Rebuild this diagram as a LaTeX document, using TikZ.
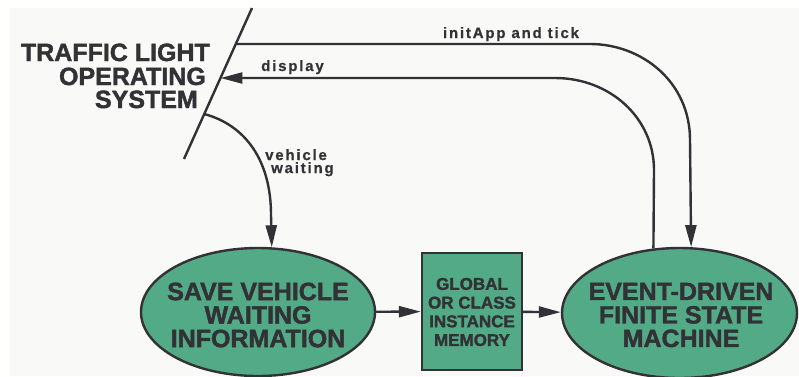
\documentclass[tikz,border=0pt]{standalone}
\usepackage{fontspec}
\setmainfont{Liberation Sans}
\newfontfamily\heavyfont[FakeBold=1.6]{Liberation Sans Bold}
\newfontfamily\labelfont[LetterSpace=12,FakeBold=0.6]{Liberation Sans Bold}
\usetikzlibrary{shapes.geometric,arrows.meta,calc}
\definecolor{ink}{HTML}{323236}
\definecolor{fsmgreen}{HTML}{52AA86}
\definecolor{paper}{HTML}{F9F9F7}

\begin{document}
\begin{tikzpicture}[x=1pt,y=-1pt,
  conn/.style={draw=ink,line width=2.4pt},
  arrowed/.style={conn,-{Triangle[length=22pt,width=11pt]}},
  bubble/.style={ellipse,draw=ink,line width=2.4pt,fill=fsmgreen,
    minimum width=234pt,minimum height=128pt,inner sep=0pt},
  bigtext/.style={text=ink,font=\heavyfont\fontsize{25}{23.5}\selectfont,
    align=center,inner sep=0pt},
  memtext/.style={text=ink,font=\heavyfont\fontsize{17}{18.7}\selectfont,
    align=center,inner sep=0pt},
  flowlabel/.style={text=ink,font=\labelfont\fontsize{15}{13}\selectfont,
    inner sep=0pt,anchor=base},
  titleline/.style={text=ink,font=\heavyfont\fontsize{25}{25}\selectfont,
    inner sep=0pt,anchor=base east}
]
\useasboundingbox (0,0) rectangle (799,376);
\fill[white] (0,0) rectangle (799,376);
\fill[paper] (10,8) rectangle (799,376);

% operating system boundary (slanted bar) and its name
\coordinate (osTop) at (252,8);
\coordinate (osBot) at (184,159);
\draw[conn] (osTop) -- (osBot);
\node[titleline] (t1) at (210,61) {TRAFFIC LIGHT};
\node[titleline] (t2) at (206,85) {OPERATING};
\node[titleline] (t3) at (198,108) {SYSTEM};

% points where the flows leave / reach the operating system
\coordinate (osTick) at ($(osTop)!0.2384!(osBot)$);
\coordinate (osDisp) at ($(osTop)!0.4636!(osBot)$);
\coordinate (osVeh)  at ($(osTop)!0.702!(osBot)$);

% processes and data store
\node[bubble] (save) at (258,312) {};
\node[bigtext] (saveText) at (258,315) {SAVE VEHICLE\\WAITING\\INFORMATION};

\node[draw=ink,line width=2.4pt,fill=fsmgreen,minimum width=100pt,
  minimum height=117pt,inner sep=0pt] (mem) at (472,311.5) {};
\node[memtext] (memText) at (472,312) {GLOBAL\\OR CLASS\\INSTANCE\\MEMORY};

\node[bubble,minimum width=235pt,minimum height=130pt] (fsm) at (679.5,313) {};
\node[bigtext] (fsmText) at (681,315) {EVENT-DRIVEN\\FINITE STATE\\MACHINE};

% data flows
\draw[arrowed] (save) -- (mem);
\draw[arrowed] (mem) -- (fsm);

\draw[arrowed] (osTick) -- (590,44)
  .. controls (642,44) and (690,82) .. (690,140) -- (fsm.80);
\node[flowlabel] (tickLabel) at (511,38) {initApp and tick};

\draw[arrowed] (fsm.112) -- (654,170)
  .. controls (654,118) and (610,78) .. (555,78) -- (osDisp);
\node[flowlabel] (dispLabel) at (292.5,71) {display};

\draw[arrowed] (osVeh) .. controls (245,125) and (271,160) .. (271,215) -- (save.78);
\node[flowlabel,anchor=north west,align=left] (vehLabel) at (265,149)
  {vehicle\\\hspace*{6pt}waiting};
\end{tikzpicture}
\end{document}
